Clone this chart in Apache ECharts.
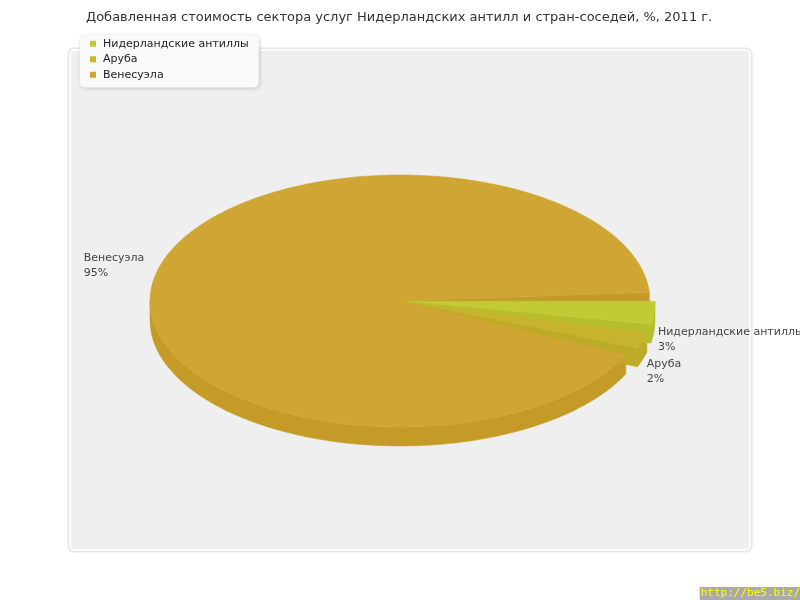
<!DOCTYPE html>
<html>
<head>
<meta charset="utf-8">
<script src="https://cdn.jsdelivr.net/npm/echarts@6/dist/echarts.min.js"></script>
<style>html,body{margin:0;padding:0;background:#fff;}#c{width:800px;height:600px;}</style>
</head>
<body>
<div id="c"></div>
<script>
const titleText = 'Добавленная стоимость сектора услуг Нидерландских антилл и стран-соседей, %, 2011 г.';
const categories = ['Нидерландские антиллы', 'Аруба', 'Венесуэла'];
const values = [3, 2, 95];
const exploded = [true, true, false];

const topColors = ['#C2CA35', '#C8B32F', '#CFA633'];
const sideColors = ['#B6BE2B', '#BDAA26', '#C49B27'];
const legendColors = ['#C2C935', '#CCB630', '#D2A431'];

const FONT = 'DejaVu Sans';
const CX = 400, CY = 301, RX = 250, RY = 126, DEPTH = 19, EXPLODE = 5, PAD = 4;
const total = values.reduce((a, b) => a + b, 0);
const unit = (360 - PAD * values.length) / total;

const mctx = document.createElement('canvas').getContext('2d');
mctx.font = '11px "' + FONT + '"';
function tw(s) { return mctx.measureText(s).width; }

const rad = d => d * Math.PI / 180;

function renderItem(params, api) {
  const idx = params.dataIndex;
  const v = api.value(0);
  let before = 0;
  for (let i = 0; i < idx; i++) before += values[i];
  const s = before * unit + idx * PAD;
  const e = s + v * unit;
  const m = (s + e) / 2;
  const ox = exploded[idx] ? EXPLODE * Math.cos(rad(m)) : 0;
  const oy = exploded[idx] ? EXPLODE * 0.5 * Math.sin(rad(m)) : 0;
  const pt = (a, dy) => [CX + ox + RX * Math.cos(rad(a)), CY + oy + RY * Math.sin(rad(a)) + (dy || 0)];
  const apex = [CX + ox, CY + oy];
  const arc = (a, b, dy) => {
    const pts = [];
    const n = Math.max(2, Math.ceil(Math.abs(b - a)));
    for (let k = 0; k <= n; k++) pts.push(pt(a + (b - a) * k / n, dy));
    return pts;
  };
  const children = [];
  const side = {fill: sideColors[idx], stroke: sideColors[idx], lineWidth: 0.5};
  // outer front wall
  const a0 = Math.max(s, 0), b0 = Math.min(e, 180);
  if (a0 < b0) {
    children.push({type: 'polygon', z2: 5, shape: {points: arc(a0, b0, 0).concat(arc(b0, a0, DEPTH))}, style: side});
  }
  // radial walls (visible ones), stacked back to front
  [[e, Math.cos(rad(e)) > 0], [s, Math.cos(rad(s)) < 0]].forEach(([ang, vis]) => {
    if (!vis) return;
    const p = pt(ang, 0);
    children.push({type: 'polygon', z2: 20 + 10 * Math.sin(rad(ang)), shape: {points: [apex, p, [p[0], p[1] + DEPTH], [apex[0], apex[1] + DEPTH]]}, style: side});
  });
  // top face
  children.push({type: 'polygon', z2: 50 + idx, shape: {points: [apex].concat(arc(s, e, 0))}, style: {fill: topColors[idx], stroke: topColors[idx], lineWidth: 0.5}});
  // label
  const name = categories[idx];
  const txt = name + '\n' + Math.round(v / total * 100) + '%';
  const anc = pt(m, 0);
  let lx, ly;
  if (Math.cos(rad(m)) < 0) {
    lx = anc[0] - 10 - tw(name);
    ly = anc[1] - 12;
  } else {
    lx = anc[0] + 4;
    ly = anc[1] + 25 + 20 * Math.sin(rad(m));
  }
  children.push({type: 'text', z2: 100, x: lx, y: ly, style: {text: txt, fill: '#444', font: '11px "' + FONT + '"', lineHeight: 15, align: 'left', verticalAlign: 'middle'}});
  return {type: 'group', children: children};
}

const chart = echarts.init(document.getElementById('c'), null, {renderer: 'canvas'});
chart.setOption({
  animation: false,
  backgroundColor: '#ffffff',
  title: {
    text: titleText, left: 86, top: 11, padding: 0,
    textStyle: {fontFamily: FONT, fontSize: 13, fontWeight: 'normal', color: '#333'}
  },
  legend: {
    orient: 'vertical', left: 80, top: 35,
    padding: [2, 10, 6, 10],
    backgroundColor: '#fafafa', borderRadius: 5,
    shadowBlur: 4, shadowColor: 'rgba(0,0,0,0.18)', shadowOffsetX: 1, shadowOffsetY: 1,
    icon: 'rect', itemWidth: 6, itemHeight: 6, itemGap: 2,
    textStyle: {fontFamily: FONT, fontSize: 11, color: '#222', lineHeight: 13.5, padding: [0, 0, 0, 2]},
    data: categories,
    selectedMode: false
  },
  graphic: [
    {type: 'rect', z: -10, shape: {x: 68, y: 48, width: 684, height: 504, r: 6}, style: {fill: '#efefef', stroke: '#e2e2e2', lineWidth: 1}},
    {type: 'rect', z: -9, shape: {x: 70, y: 50, width: 680, height: 500, r: 5}, style: {fill: '#efefef', stroke: '#ffffff', lineWidth: 1.5}},
    {type: 'text', z: 10, right: 0, bottom: 0, style: {text: 'http://be5.biz/', font: '11px "DejaVu Sans Mono"', fill: '#ffff00', backgroundColor: '#aaaaaa', padding: [1, 0, 1, 1]}}
  ],
  series: [
    {
      type: 'pie', radius: [0, 0], center: [CX, CY], silent: true,
      label: {show: false}, labelLine: {show: false},
      data: categories.map((c, i) => ({name: c, value: values[i], itemStyle: {color: legendColors[i]}}))
    },
    {
      type: 'custom', coordinateSystem: 'none', silent: true,
      renderItem: renderItem,
      data: values.map(v => [v])
    }
  ]
});
</script>
</body>
</html>
